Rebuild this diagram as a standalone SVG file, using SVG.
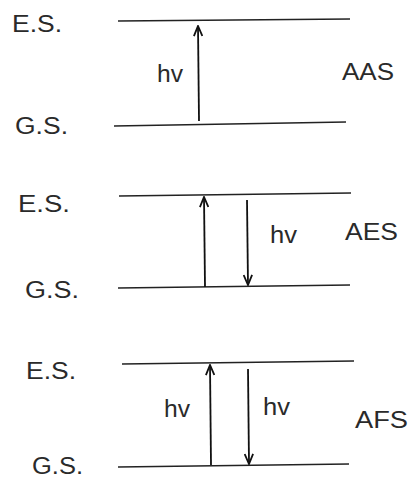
<svg xmlns="http://www.w3.org/2000/svg" width="409" height="480" viewBox="0 0 409 480">
<style>
text{font-family:"Liberation Sans",Arial,sans-serif;font-size:23px;fill:#2a2a2a}
.lvl{stroke:#222;stroke-width:1.6;fill:none}
.arr{stroke:#111;stroke-width:1.8;fill:none;marker-end:url(#ah)}
</style>
<defs>
<marker id="ah" viewBox="0 0 12 10" refX="11" refY="5" markerWidth="12" markerHeight="10" markerUnits="userSpaceOnUse" orient="auto">
<path d="M1,0.8 L11,5 L1,9.2" fill="none" stroke="#111" stroke-width="1.8"/>
</marker>
</defs>
<rect width="409" height="480" fill="#fff"/>
<g id="aas">
<text x="12" y="32" textLength="50" lengthAdjust="spacingAndGlyphs">E.S.</text>
<text x="15" y="134" textLength="53" lengthAdjust="spacingAndGlyphs">G.S.</text>
<line class="lvl" x1="118" y1="21" x2="350" y2="19"/>
<line class="lvl" x1="114" y1="126" x2="346" y2="122"/>
<text x="157" y="82" textLength="26" lengthAdjust="spacingAndGlyphs">hv</text>
<text x="342" y="80" textLength="52" lengthAdjust="spacingAndGlyphs">AAS</text>
</g>
<g id="aes">
<text x="18" y="212" textLength="52" lengthAdjust="spacingAndGlyphs">E.S.</text>
<text x="25" y="298" textLength="54" lengthAdjust="spacingAndGlyphs">G.S.</text>
<line class="lvl" x1="119" y1="196" x2="351" y2="193"/>
<line class="lvl" x1="118" y1="288" x2="350" y2="285"/>
<text x="270" y="243" textLength="27" lengthAdjust="spacingAndGlyphs">hv</text>
<text x="345" y="240" textLength="53" lengthAdjust="spacingAndGlyphs">AES</text>
</g>
<g id="afs">
<text x="26" y="379" textLength="50" lengthAdjust="spacingAndGlyphs">E.S.</text>
<text x="32" y="474" font-size="22" textLength="51" lengthAdjust="spacingAndGlyphs">G.S.</text>
<line class="lvl" x1="122" y1="364" x2="354" y2="361"/>
<line class="lvl" x1="118" y1="467" x2="349" y2="464"/>
<text x="164" y="417" textLength="26" lengthAdjust="spacingAndGlyphs">hv</text>
<text x="263" y="415" textLength="27" lengthAdjust="spacingAndGlyphs">hv</text>
<text x="355" y="428" textLength="53" lengthAdjust="spacingAndGlyphs">AFS</text>
</g>
<g id="connectors">
<line class="arr" x1="199" y1="121" x2="198" y2="26"/>
<line class="arr" x1="205" y1="287" x2="204" y2="197"/>
<line class="arr" x1="247" y1="200" x2="248" y2="285"/>
<line class="arr" x1="211" y1="465" x2="210" y2="365"/>
<line class="arr" x1="248" y1="369" x2="249" y2="464"/>
</g>
</svg>
